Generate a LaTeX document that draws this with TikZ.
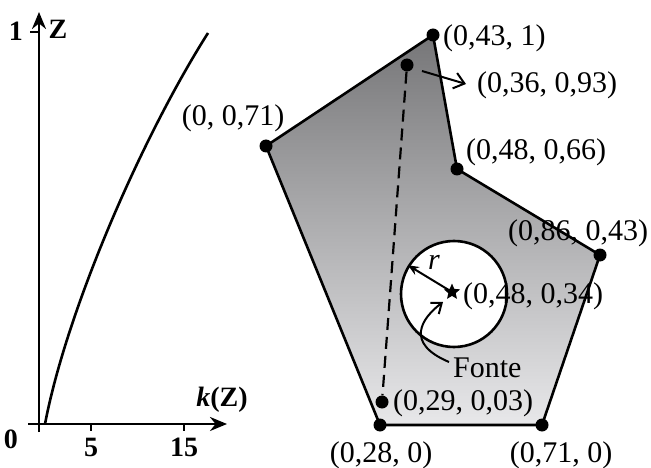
\documentclass[tikz,border=0pt]{standalone}
\usepackage{fontspec}
\setmainfont{Liberation Serif}
\usetikzlibrary{arrows.meta,shapes.geometric}
\begin{document}
\begin{tikzpicture}[x=1pt,y=-1pt,
  lbl/.style={font=\fontsize{30}{34}\selectfont, inner sep=0pt},
  axlbl/.style={font=\fontsize{28}{32}\selectfont\bfseries, inner sep=0pt},
  vdot/.style={circle, fill=black, inner sep=0pt, minimum size=13pt},
  edge/.style={line width=2.6pt, line join=round},
  axis/.style={line width=2.6pt, -{Stealth[length=17pt,width=14pt]}}]
\useasboundingbox (0,0) rectangle (651,468);
% ---------- left plot ----------
\coordinate (xo) at (28,424);
\coordinate (xe) at (227,424);
\coordinate (yo) at (39,432);
\coordinate (ye) at (39,12);
\draw[axis] (xo) -- (xe);
\draw[axis] (yo) -- (ye);
\coordinate (t1a) at (30,32);  \coordinate (t1b) at (39,32);
\draw[line width=1.6pt] (t1a) -- (t1b);
\coordinate (t5a) at (91,424);  \coordinate (t5b) at (91,431);
\coordinate (t15a) at (184,424); \coordinate (t15b) at (184,431);
\draw[line width=1.6pt] (t5a) -- (t5b) (t15a) -- (t15b);
\coordinate (c0) at (45,424);
\coordinate (c1) at (208,33);
\draw[edge] (c0) .. controls (67,309) and (142,137) .. (c1);
\node[axlbl] (one) at (16,31) {1};
\node[axlbl] (zl) at (58,29) {Z};
\node[axlbl] (zero) at (11,439) {0};
\node[axlbl] (five) at (91,447) {5};
\node[axlbl] (fifteen) at (184,447) {15};
\node[axlbl] (kz) at (222,400) {\textit{k}(Z)};
% ---------- polygon ----------
\coordinate (A) at (433,35);
\coordinate (B) at (457,169);
\coordinate (C) at (600,255);
\coordinate (D) at (542,425);
\coordinate (E) at (380,425);
\coordinate (F) at (266,146);
\shade[top color={rgb,255:red,118;green,118;blue,120}, bottom color={rgb,255:red,232;green,232;blue,234}]
  (A) -- (B) -- (C) -- (D) -- (E) -- (F) -- cycle;
\draw[edge] (A) -- (B) -- (C) -- (D) -- (E) -- (F) -- cycle;
% dashed segment
\node[vdot] (P36) at (407,65) {};
\node[vdot] (P29) at (382,402) {};
\draw[line width=2.2pt, dash pattern=on 12pt off 7pt] (P36) -- (P29);
% vertices
\node[vdot] (VA) at (A) {};
\node[vdot] (VB) at (B) {};
\node[vdot] (VC) at (C) {};
\node[vdot] (VD) at (D) {};
\node[vdot] (VE) at (E) {};
\node[vdot] (VF) at (F) {};
% circle and source
\node[circle, draw, fill=white, line width=2.6pt, minimum size=106pt, inner sep=0pt] (circ) at (454,294) {};
\node[star, star points=5, star point ratio=2.2, fill=black, inner sep=0pt, minimum size=17pt] (src) at (452,292) {};
\draw[line width=2pt, -{Stealth[length=11pt,width=9pt]}] (src.center) -- (circ.148);
\node[font=\fontsize{30}{34}\selectfont\itshape, inner sep=0pt] (rl) at (434,262) {r};
% labels
\node[lbl, anchor=west] (lA) at (443,38) {(0,43, 1)};
\node[lbl, anchor=west] (l36) at (477,85) {(0,36, 0,93)};
\node[lbl] (lF) at (233,118) {(0, 0,71)};
\node[lbl, anchor=west] (lB) at (466,152) {(0,48, 0,66)};
\node[lbl, anchor=west] (lC) at (508,233) {(0,86, 0,43)};
\node[lbl, anchor=west] (lS) at (463,296) {(0,48, 0,34)};
\node[lbl, anchor=west] (fonte) at (453,368) {Fonte};
\node[lbl, anchor=west] (l29) at (393,403) {(0,29, 0,03)};
\node[lbl] (lE) at (381,455) {(0,28, 0)};
\node[lbl] (lD) at (561,455) {(0,71, 0)};
% pointer arrows
\coordinate (a36s) at (422,71);
\draw[line width=2pt, -{Straight Barb[length=10pt,width=16pt]}] (a36s) -- ([xshift=-11pt,yshift=1pt]l36.west);
\coordinate (fs) at (449,362);
\draw[line width=2pt, -{Straight Barb[length=9pt,width=14pt]}] (fs) .. controls (404,343) and (422,318) .. (443,302);
\end{tikzpicture}
\end{document}
